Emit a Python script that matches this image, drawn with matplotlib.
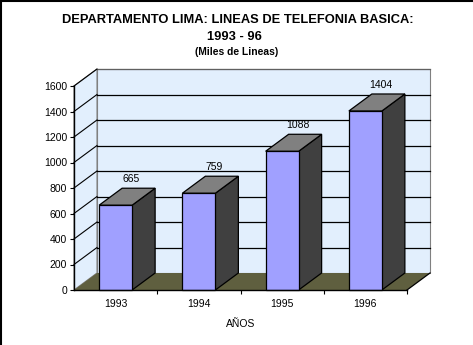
import matplotlib
matplotlib.use("Agg")
import matplotlib.pyplot as plt
from matplotlib.patches import Polygon, Rectangle
from matplotlib.lines import Line2D

years = ["1993", "1994", "1995", "1996"]
values = [665, 759, 1088, 1404]
yticks = [0, 200, 400, 600, 800, 1000, 1200, 1400, 1600]
title1 = "DEPARTAMENTO LIMA: LINEAS DE TELEFONIA BASICA:"
title2 = "1993 - 96"
subtitle = "(Miles de Lineas)"
xlabel = "AÑOS"

W, H = 473, 345
fig = plt.figure(figsize=(W / 100, H / 100), dpi=100)
fig.patch.set_facecolor("white")

# front plane of the 3D box (pixel geometry)
L, R, B, T = 74, 407, 290, 86
ax = fig.add_axes([L / W, 1 - B / H, (R - L) / W, (B - T) / H])
n = len(years)
ymax = 1600
ax.set_xlim(0, n)
ax.set_ylim(0, ymax)
ax.set_facecolor("none")

# depth offset in data units
DX = 23 / ((R - L) / n)
DY = 17 / ((B - T) / ymax)

wall_c = "#e2effd"
floor_c = "#5f5f3f"

# back wall
ax.add_patch(Polygon([(DX, DY), (n + DX, DY), (n + DX, ymax + DY), (DX, ymax + DY)],
                     closed=True, facecolor=wall_c, edgecolor="#808080", lw=0.8,
                     clip_on=False, zorder=1))
# left wall
ax.add_patch(Polygon([(0, 0), (DX, DY), (DX, ymax + DY), (0, ymax)],
                     closed=True, facecolor=wall_c, edgecolor="#808080", lw=0.8,
                     clip_on=False, zorder=1))
# gridlines
for v in yticks[1:]:
    c = "black" if v < ymax else "#606060"
    ax.add_line(Line2D([DX, n + DX], [v + DY, v + DY], color=c, lw=0.9,
                       clip_on=False, zorder=2))
    ax.add_line(Line2D([0, DX], [v, v + DY], color="black", lw=0.8,
                       clip_on=False, zorder=2))
# floor
ax.add_patch(Polygon([(0, 0), (n, 0), (n + DX, DY), (DX, DY)], closed=True,
                     facecolor=floor_c, edgecolor="none", clip_on=False, zorder=3))
ax.add_line(Line2D([n, n + DX], [0, DY], color="black", lw=0.9, clip_on=False, zorder=3))

# bars
bw = 33 / ((R - L) / n)
for i, v in enumerate(values):
    x0 = i + 0.5 - bw / 2
    x1 = x0 + bw
    ax.add_patch(Polygon([(x1, 0), (x1 + DX, DY), (x1 + DX, v + DY), (x1, v)], closed=True,
                         facecolor="#404040", edgecolor="black", lw=0.9, clip_on=False, zorder=4))
    ax.add_patch(Polygon([(x0, v), (x1, v), (x1 + DX, v + DY), (x0 + DX, v + DY)], closed=True,
                         facecolor="#808080", edgecolor="black", lw=0.9, clip_on=False, zorder=4))
    ax.add_patch(Rectangle((x0, 0), bw, v, facecolor="#a0a0ff", edgecolor="black",
                           lw=0.9, clip_on=False, zorder=5))
    ax.annotate(str(v), (i + 0.5 + 15.5 / ((R - L) / n), v + DY), xytext=(0, 3),
                textcoords="offset points", ha="center", va="bottom",
                fontsize=7.5, family="Liberation Sans", zorder=6, annotation_clip=False)

# axes styling
for s in ["top", "right"]:
    ax.spines[s].set_visible(False)
for s in ["left", "bottom"]:
    ax.spines[s].set_color("black")
    ax.spines[s].set_linewidth(1.0)
    ax.spines[s].set_zorder(7)
ax.set_yticks(yticks)
ax.set_yticklabels([str(v) for v in yticks], fontsize=7.5, family="Liberation Sans")
ax.tick_params(axis="y", direction="out", length=3, width=0.8, pad=2)
ax.set_xticks(range(1, n + 1))
ax.set_xticklabels([])
ax.tick_params(axis="x", which="major", direction="out", length=3, width=0.8)
ax.set_xticks([i + 0.5 for i in range(n)], minor=True)
ax.set_xticklabels(years, minor=True, fontsize=7.5, family="Liberation Sans")
ax.tick_params(axis="x", which="minor", length=0, pad=6.5)
ax.set_xlabel(xlabel, fontsize=7.5, family="Liberation Sans", labelpad=7)

# titles
tfam = "Liberation Sans"
fig.text(238 / W, 1 - 20 / H, title1, ha="center", va="center", fontsize=9.3,
         fontweight="bold", family=tfam)
fig.text(234 / W, 1 - 37 / H, title2, ha="center", va="center", fontsize=9.3,
         fontweight="bold", family=tfam)
fig.text(237 / W, 1 - 52 / H, subtitle, ha="center", va="center", fontsize=7.4,
         fontweight="bold", family="Liberation Sans")

# image border (left and top)
fig.add_artist(Line2D([0.5 / W, 0.5 / W], [0, 1], color="black", lw=1.5,
                      transform=fig.transFigure))
fig.add_artist(Line2D([0, 1], [1 - 0.5 / H, 1 - 0.5 / H], color="black", lw=1.5,
                      transform=fig.transFigure))

fig.savefig("out.png", dpi=100)
